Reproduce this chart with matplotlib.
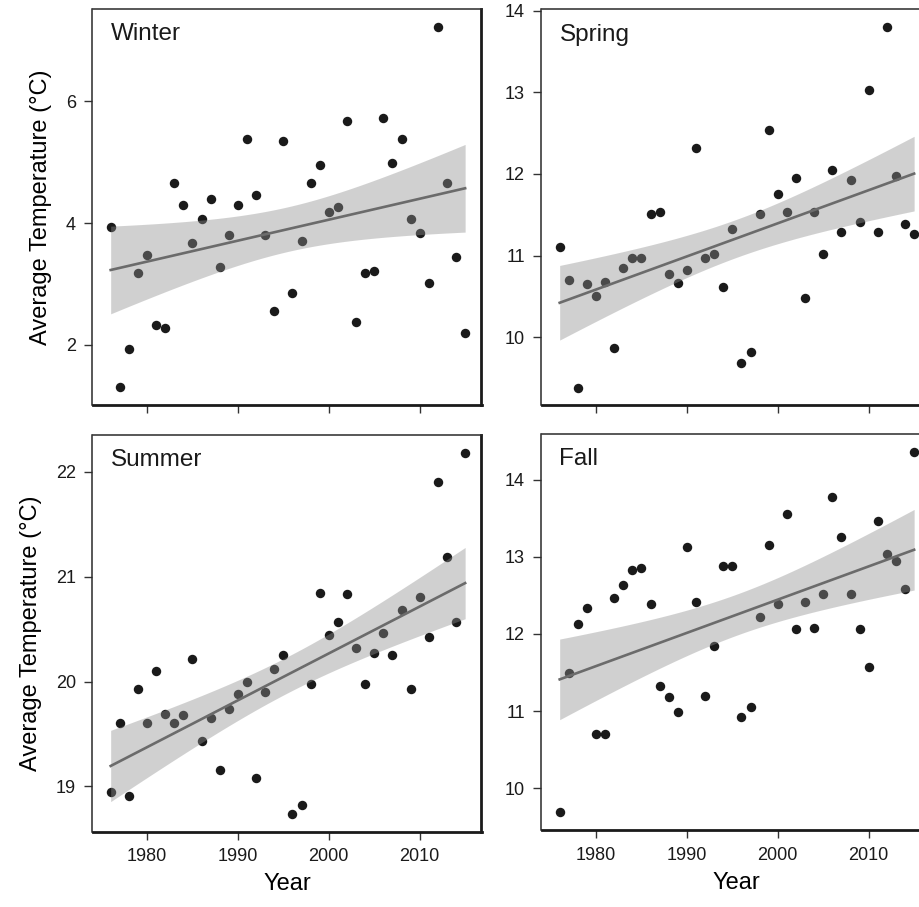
import numpy as np
import matplotlib
matplotlib.use("Agg")
import matplotlib.pyplot as plt

plt.rcParams['font.family'] = ['Liberation Sans', 'DejaVu Sans']

years = list(range(1976, 2016))

winter = [3.93, 1.30, 1.93, 3.18, 3.47, 2.33, 2.28, 4.66, 4.30, 3.67,
          4.07, 4.39, 3.28, 3.80, 4.30, 5.38, 4.47, 3.80, 2.55, 5.35,
          2.85, 3.70, 4.66, 4.96, 4.19, 4.26, 5.68, 2.38, 3.18, 3.21,
          5.72, 4.99, 5.38, 4.07, 3.84, 3.01, 7.23, 4.66, 3.45, 2.19]

spring = [11.11, 10.70, 9.38, 10.65, 10.51, 10.68, 9.87, 10.85, 10.97, 10.97,
          11.51, 11.53, 10.78, 10.67, 10.82, 12.32, 10.97, 11.02, 10.62, 11.33,
          9.69, 9.82, 11.51, 12.54, 11.76, 11.53, 11.95, 10.48, 11.53, 11.02,
          12.05, 11.29, 11.93, 11.41, 13.03, 11.29, 13.80, 11.97, 11.39, 11.27]

summer = [18.95, 19.60, 18.91, 19.93, 19.60, 20.10, 19.69, 19.60, 19.68, 20.21,
          19.43, 19.65, 19.16, 19.74, 19.88, 20.00, 19.08, 19.90, 20.12, 20.25,
          18.74, 18.82, 19.98, 20.84, 20.44, 20.57, 20.83, 20.32, 19.98, 20.27,
          20.46, 20.25, 20.68, 19.93, 20.81, 20.42, 21.90, 21.19, 20.57, 22.18]

fall = [9.69, 11.50, 12.13, 12.34, 10.71, 10.71, 12.47, 12.63, 12.83, 12.86,
        12.39, 11.33, 11.18, 10.99, 13.12, 12.42, 11.20, 11.85, 12.88, 12.88,
        10.92, 11.05, 12.22, 13.15, 12.39, 13.56, 12.06, 12.42, 12.08, 12.52,
        13.77, 13.25, 12.52, 12.06, 11.57, 13.46, 13.04, 12.94, 12.58, 14.36]

season_names = ["Winter", "Spring", "Summer", "Fall"]
series = [winter, spring, summer, fall]
y_ticks = [[2, 4, 6], [10, 11, 12, 13, 14], [19, 20, 21, 22], [10, 11, 12, 13, 14]]
y_lims = [(1.01, 7.52), (9.17, 14.02), (18.57, 22.35), (9.46, 14.59)]
x_ticks = [1980, 1990, 2000, 2010]
x_lim = (1974.0, 2016.8)

W, H = 920, 907
fig = plt.figure(figsize=(W / 100, H / 100), dpi=100)

# pixel boxes: (left, top, right, bottom)
boxes = [(92.5, 9, 481.5, 405), (541.5, 9, 930.5, 405),
         (92.5, 435, 481.5, 831.5), (541.5, 434, 930.5, 830)]

T_CRIT = 2.024  # t(0.975, df=38)

for i, (name, vals, yt, yl, box) in enumerate(zip(season_names, series, y_ticks, y_lims, boxes)):
    l, t, r, b = box
    ax = fig.add_axes([l / W, 1 - b / H, (r - l) / W, (b - t) / H])
    x = np.array(years, dtype=float)
    y = np.array(vals, dtype=float)

    ax.plot(x, y, linestyle='none', marker='o', markersize=6.8,
            color='#1a1a1a', markeredgewidth=0, zorder=2)

    # linear fit with 95% CI of the mean
    slope, intercept = np.polyfit(x, y, 1)
    xs = np.linspace(x.min(), x.max(), 200)
    fit = intercept + slope * xs
    n = len(x)
    resid = y - (intercept + slope * x)
    s = np.sqrt(np.sum(resid ** 2) / (n - 2))
    se = s * np.sqrt(1 / n + (xs - x.mean()) ** 2 / np.sum((x - x.mean()) ** 2))
    ax.fill_between(xs, fit - T_CRIT * se, fit + T_CRIT * se,
                    color='#8f8f8f', alpha=0.41, linewidth=0, zorder=3)
    ax.plot(xs, fit, color='#6b6b6b', linewidth=1.9, zorder=4)

    ax.set_xlim(*x_lim)
    ax.set_ylim(*yl)
    ax.set_xticks(x_ticks)
    ax.set_yticks(yt)
    ax.set_yticklabels([str(v) for v in yt])
    if i >= 2:
        ax.set_xticklabels([str(v) for v in x_ticks])
        ax.set_xlabel("Year", fontsize=17, labelpad=6)
    else:
        ax.set_xticklabels([])
    if i % 2 == 0:
        ax.set_ylabel("Average Temperature (°C)", fontsize=17, labelpad=10)

    ax.tick_params(axis='both', direction='out', length=6, width=1.0,
                   color='#333333', labelsize=13, labelcolor='#1a1a1a', pad=6)

    for side in ('left', 'top'):
        ax.spines[side].set_linewidth(1.1)
        ax.spines[side].set_color('#2a2a2a')
    for side in ('right', 'bottom'):
        ax.spines[side].set_linewidth(2.0)
        ax.spines[side].set_color('#1a1a1a')

    ax.text(18 / (r - l), 1 - 31.5 / (b - t), name, transform=ax.transAxes,
            fontsize=17.5, color='#1a1a1a', ha='left', va='baseline')

fig.savefig("out.png", dpi=100)
